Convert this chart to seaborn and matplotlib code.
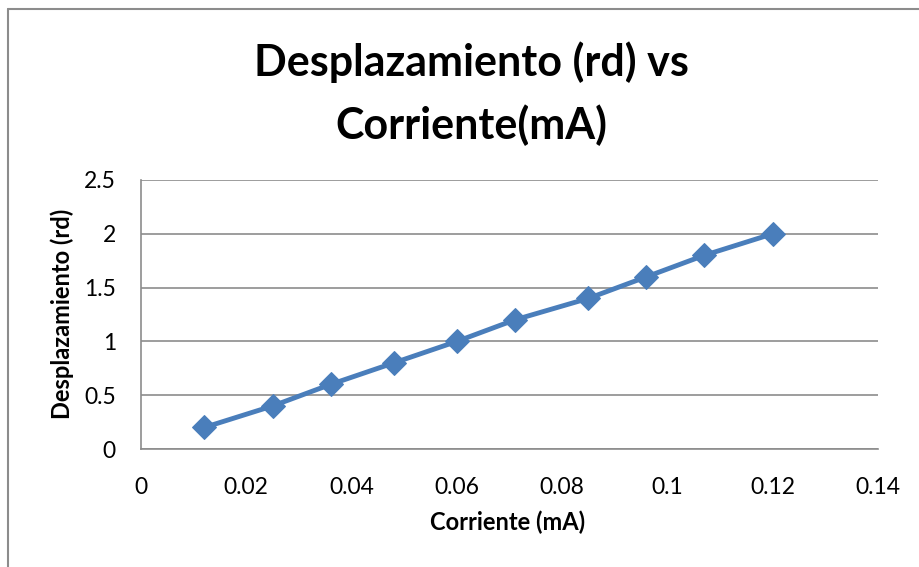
import matplotlib
matplotlib.use("Agg")
import matplotlib.pyplot as plt
import seaborn as sns
import pandas as pd
from matplotlib.lines import Line2D

corriente = [0.012, 0.025, 0.036, 0.048, 0.060, 0.071, 0.085, 0.096, 0.107, 0.120]
desplazamiento = [0.2, 0.4, 0.6, 0.8, 1.0, 1.2, 1.4, 1.6, 1.8, 2.0]
x_ticks = [0, 0.02, 0.04, 0.06, 0.08, 0.1, 0.12, 0.14]
x_tick_labels = ["0", "0.02", "0.04", "0.06", "0.08", "0.1", "0.12", "0.14"]
y_ticks = [0, 0.5, 1, 1.5, 2, 2.5]
y_tick_labels = ["0", "0.5", "1", "1.5", "2", "2.5"]
title_lines = ["Desplazamiento (rd) vs", "Corriente(mA)"]

df = pd.DataFrame({"x": corriente, "y": desplazamiento})

sns.set_theme(style="white")
plt.rcParams["font.family"] = ["Lato", "DejaVu Sans"]
plt.rcParams["text.color"] = "black"
plt.rcParams["axes.labelcolor"] = "black"

W, H = 920, 567
fig = plt.figure(figsize=(W / 100, H / 100), dpi=100)
ax = fig.add_axes([141 / W, 1 - 449 / H, (878 - 141) / W, (449 - 180) / H])

color = "#4A7EBB"
sns.lineplot(data=df, x="x", y="y", ax=ax, color=color, linewidth=3.5,
             marker="D", markersize=12.5, markeredgecolor=color,
             markerfacecolor=color, zorder=3)

ax.set_xlim(0, 0.14)
ax.set_ylim(0, 2.5)
ax.set_xticks(x_ticks)
ax.set_xticklabels(x_tick_labels, fontsize=16.5)
ax.set_yticks(y_ticks)
ax.set_yticklabels(y_tick_labels, fontsize=16.5)
ax.yaxis.grid(True, color="#8C8C8C", linewidth=1.2)
ax.xaxis.grid(False)
for s in ["top", "right"]:
    ax.spines[s].set_visible(False)
for s in ["left", "bottom"]:
    ax.spines[s].set_color("#8C8C8C")
    ax.spines[s].set_linewidth(1.2)
ax.tick_params(axis="both", which="major", direction="out", length=6,
               width=1.2, color="#8C8C8C", labelcolor="black")
ax.tick_params(axis="x", pad=14)
ax.tick_params(axis="y", pad=12)

ax.set_xlabel("Corriente (mA)", fontsize=17, fontweight="bold", color="black")
ax.set_ylabel("Desplazamiento (rd)", fontsize=17, fontweight="bold", color="black")
ax.xaxis.label.set_va("center")
ax.yaxis.label.set_va("center")
ax.xaxis.set_label_coords((508 - 141) / 737, (449 - 522) / 269)
ax.yaxis.set_label_coords((62 - 141) / 737, (449 - 314) / 269)

fig.text(471 / W, 1 - 62 / H, title_lines[0], ha="center", va="center",
         fontsize=31, fontweight="bold", color="black")
fig.text(471 / W, 1 - 125 / H, title_lines[1], ha="center", va="center",
         fontsize=31, fontweight="bold", color="black")

# chart border (as in the reference crop)
fig.add_artist(Line2D([8 / W, 1.0], [1 - 9 / H, 1 - 9 / H], color="#8C8C8C",
                      linewidth=1.5, transform=fig.transFigure))
fig.add_artist(Line2D([8 / W, 8 / W], [1 - 9 / H, 0.0], color="#8C8C8C",
                      linewidth=1.5, transform=fig.transFigure))

fig.savefig("out.png", dpi=100, facecolor="white")
